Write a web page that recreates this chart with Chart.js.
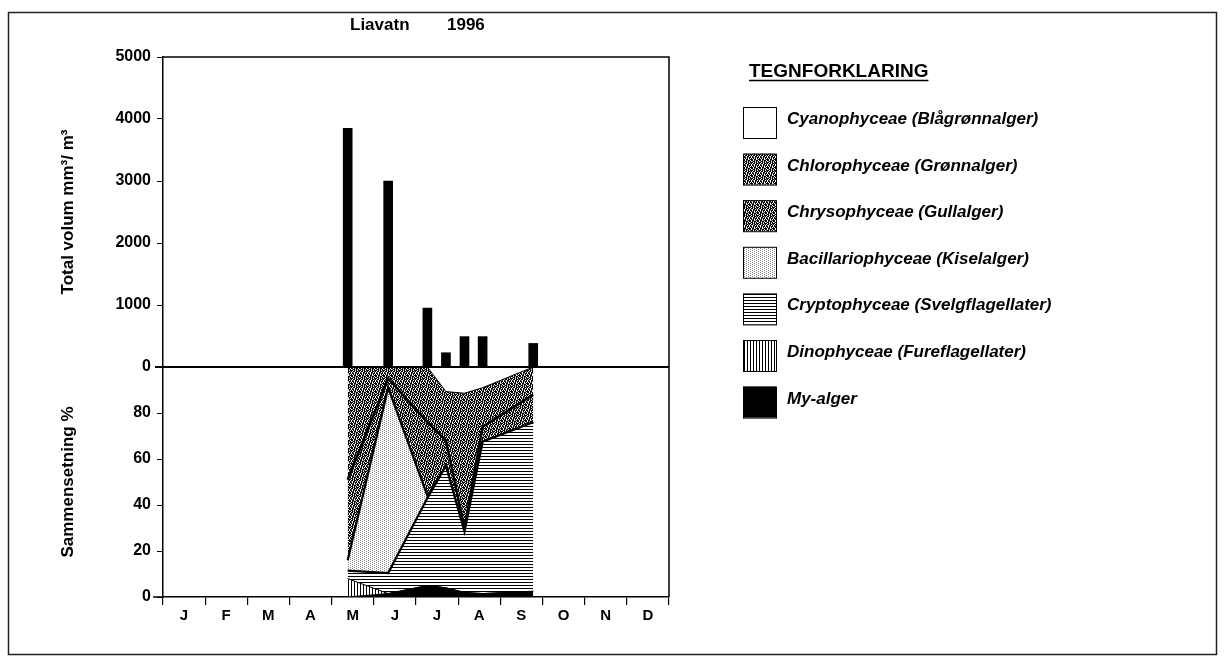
<!DOCTYPE html>
<html>
<head>
<meta charset="utf-8">
<title>Liavatn 1996</title>
<script src="https://cdn.jsdelivr.net/npm/chart.js@4.4.1/dist/chart.umd.min.js"></script>
<style>
  html, body { margin: 0; padding: 0; background: #fff; }
  canvas { display: block; }
</style>
</head>
<body>
<canvas id="c" width="1224" height="664"></canvas>
<script>
// Month axis (x = months since 1 January, ticks at month boundaries)
const months = ['J', 'F', 'M', 'A', 'M', 'J', 'J', 'A', 'S', 'O', 'N', 'D'];
// Sampling dates, as fractional months
const sampleMonth = [4.38, 5.34, 6.27, 6.71, 7.15, 7.58, 8.78];
// Total algal volume, mm3/m3
const totalVolume = [3850, 3000, 950, 230, 490, 490, 380];
// Composition, percent of total volume per group
const myAlger          = [0, 1.5, 5, 4, 2, 1.5, 2.5];
const dinophyceae      = [8, 0, 0, 0, 0, 0, 0];
const cryptophyceae    = [3.5, 8.9, 38, 53, 26.4, 66, 73.5];
const bacillariophyceae = [4.5, 80.6, 1, 0, 0, 0, 0];
const chrysophyceae    = [35, 4, 32, 11, 1.6, 6.5, 12];
const chlorophyceae    = [49, 5, 24, 21.3, 58.6, 17, 12];
const cyanophyceae     = [0, 0, 0, 10.7, 11.4, 9, 0];
// Tick values
const volumeTicks = { min: 0, max: 5000, step: 1000 };
const percentTicks = { min: 0, max: 100, step: 20 };

const FONT = '"Liberation Sans", Arial, Helvetica, sans-serif';
const canvas = document.getElementById('c');
const ctx = canvas.getContext('2d');

// --- fill patterns (small bitmap tiles) ---
function bitmap(rows) {
  const t = document.createElement('canvas');
  t.width = rows[0].length; t.height = rows.length;
  const g = t.getContext('2d');
  g.fillStyle = '#fff'; g.fillRect(0, 0, t.width, t.height);
  rows.forEach((r, y) => [...r].forEach((ch, x) => {
    if (ch === '#') { g.fillStyle = '#000'; g.fillRect(x, y, 1, 1); }
    else if (ch === '+') { g.fillStyle = '#8a8a8a'; g.fillRect(x, y, 1, 1); }
  }));
  return ctx.createPattern(t, 'repeat');
}
// grainy dark screen used for the two dark groups
const grain = ['#.#+##.#', '+##.#+#.', '#.#+#.##', '.##.##+#', '#+.##.#.', '##.#+##.', '.#+#.#.#', '#.##.+##'];
const fills = {
  cyano: '#ffffff',
  chloro: bitmap(grain),
  chryso: bitmap(grain.slice(3).concat(grain.slice(0, 3)).map(r => r.slice(2) + r.slice(0, 2))),
  bacill: bitmap(['+...', '..+.']),
  crypto: bitmap(['#', '.', '.']),
  dino: bitmap(['#..']),
  my: '#000000'
};

// Stack order, bottom to top
const layers = [
  { label: 'My-alger', values: myAlger, fill: fills.my, width: 1 },
  { label: 'Dinophyceae (Fureflagellater)', values: dinophyceae, fill: fills.dino, width: 1 },
  { label: 'Cryptophyceae (Svelgflagellater)', values: cryptophyceae, fill: fills.crypto, width: 2.2 },
  { label: 'Bacillariophyceae (Kiselalger)', values: bacillariophyceae, fill: fills.bacill, width: 2.2 },
  { label: 'Chrysophyceae (Gullalger)', values: chrysophyceae, fill: fills.chryso, width: 2.5 },
  { label: 'Chlorophyceae (Grønnalger)', values: chlorophyceae, fill: fills.chloro, width: 1 },
  { label: 'Cyanophyceae (Blågrønnalger)', values: cyanophyceae, fill: fills.cyano, width: 0 }
];

const areaDatasets = layers.map((l, i) => ({
  type: 'line',
  label: l.label,
  data: sampleMonth.map((m, k) => ({ x: m, y: l.values[k] })),
  xAxisID: 'x',
  yAxisID: 'yPct',
  backgroundColor: l.fill,
  borderColor: '#000',
  borderWidth: l.width,
  fill: i === 0 ? 'origin' : '-1',
  pointRadius: 0,
  tension: 0
}));

const barDataset = {
  type: 'bar',
  label: 'Total volum',
  data: sampleMonth.map((m, k) => ({ x: m, y: totalVolume[k] })),
  xAxisID: 'x',
  yAxisID: 'yVol',
  backgroundColor: '#000',
  barThickness: 9
};

// Frame, title, zero line and legend
const decorations = {
  id: 'decorations',
  beforeDraw(chart) {
    const c = chart.ctx;
    c.save();
    c.fillStyle = '#fff';
    c.fillRect(0, 0, chart.width, chart.height);
    c.restore();
  },
  afterDraw(chart) {
    const c = chart.ctx;
    const a = chart.chartArea;
    const yZero = chart.scales.yVol.getPixelForValue(0);
    c.save();
    c.strokeStyle = '#000';
    // plot box: top and right edges
    c.lineWidth = 1.5;
    c.beginPath();
    c.moveTo(a.left, a.top); c.lineTo(a.right, a.top); c.lineTo(a.right, a.bottom);
    c.stroke();
    // month axis runs a little past the value axis
    c.beginPath();
    c.moveTo(a.left - 10, a.bottom); c.lineTo(a.left, a.bottom);
    c.stroke();
    // zero line between the two panels
    c.lineWidth = 2;
    c.beginPath();
    c.moveTo(a.left - 8, yZero); c.lineTo(a.right, yZero);
    c.stroke();
    // outer frame
    c.lineWidth = 1.5;
    c.strokeStyle = '#222';
    c.strokeRect(8.5, 12.5, 1208, 642);

    // title
    c.fillStyle = '#000';
    c.font = 'bold 17px ' + FONT;
    c.textBaseline = 'alphabetic';
    c.textAlign = 'left';
    c.fillText('Liavatn', 350, 30);
    c.fillText('1996', 447, 30);

    // legend
    c.font = 'bold 19px ' + FONT;
    const head = 'TEGNFORKLARING';
    c.fillText(head, 749, 77);
    const hw = c.measureText(head).width;
    c.lineWidth = 1.5;
    c.strokeStyle = '#000';
    c.beginPath(); c.moveTo(749, 80.5); c.lineTo(749 + hw, 80.5); c.stroke();

    c.font = 'italic bold 17px ' + FONT;
    const items = layers.slice().reverse();
    items.forEach((l, i) => {
      const top = 107 + i * 46.6;
      c.fillStyle = l.fill;
      c.fillRect(743, top, 33, 31);
      c.lineWidth = 1;
      c.strokeStyle = '#000';
      c.strokeRect(743.5, top + 0.5, 33, 31);
      c.fillStyle = '#000';
      c.fillText(l.label, 787, top + 17);
    });
    c.restore();
  }
};

new Chart(ctx, {
  data: { datasets: [barDataset, ...areaDatasets] },
  options: {
    responsive: false,
    animation: false,
    devicePixelRatio: 1,
    layout: { padding: { left: 40, right: 555, top: 57, bottom: 0 } },
    plugins: { legend: { display: false }, tooltip: { enabled: false } },
    scales: {
      x: {
        type: 'linear',
        position: 'bottom',
        offset: false,
        min: 0, max: 12,
        afterFit: s => { s.height = 67; },
        afterBuildTicks: s => { s.ticks = months.map((_, i) => ({ value: i })).concat([{ value: 12 }]); },
        ticks: {
          autoSkip: false, maxRotation: 0,
          labelOffset: 21,
          padding: 2,
          color: '#000',
          font: { family: FONT, size: 15, weight: 'bold' },
          callback: v => (v < 12 ? months[v] : '')
        },
        grid: { offset: false, drawOnChartArea: false, tickLength: 8, color: '#000', lineWidth: 1.2 },
        border: { color: '#000', width: 1.5 }
      },
      yPct: {
        type: 'linear',
        position: 'left',
        stack: 'panels',
        stackWeight: 230,
        stacked: true,
        min: percentTicks.min, max: percentTicks.max,
        afterFit: s => { s.width = 123; },
        ticks: {
          stepSize: percentTicks.step,
          padding: 6,
          color: '#000',
          font: { family: FONT, size: 16, weight: 'bold' },
          callback: v => (v < 100 ? String(v) : '')
        },
        grid: { drawOnChartArea: false, tickLength: 6, color: '#000' },
        border: { color: '#000', width: 1.5 },
        title: {
          display: true, text: 'Sammensetning %', color: '#000',
          font: { family: FONT, size: 17, weight: 'bold' },
          padding: { top: 18, bottom: 0 }
        }
      },
      yVol: {
        type: 'linear',
        position: 'left',
        stack: 'panels',
        stackWeight: 310,
        min: volumeTicks.min, max: volumeTicks.max,
        afterFit: s => { s.width = 123; },
        ticks: {
          stepSize: volumeTicks.step,
          padding: 6,
          color: '#000',
          font: { family: FONT, size: 16, weight: 'bold' },
          callback: v => String(v)
        },
        grid: { drawOnChartArea: false, tickLength: 6, color: '#000' },
        border: { color: '#000', width: 1.5 },
        title: {
          display: true, text: 'Total volum mm³/ m³', color: '#000',
          font: { family: FONT, size: 17, weight: 'bold' },
          padding: { top: 18, bottom: 0 }
        }
      }
    }
  },
  plugins: [decorations]
});
</script>
</body>
</html>
